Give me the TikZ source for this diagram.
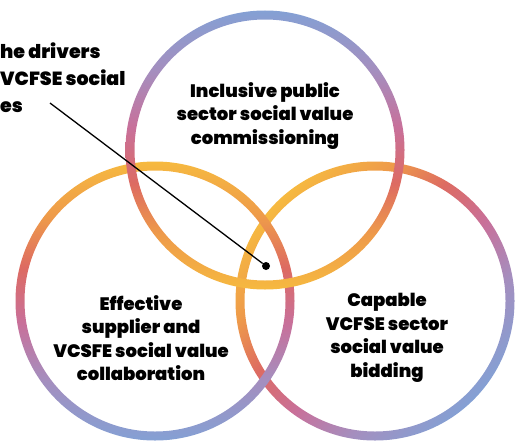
\documentclass[tikz,border=0pt]{standalone}
\usepackage{fontspec}
\newfontfamily\vennfont{Poppins}[UprightFont=* SemiBold]

\definecolor{vnYellow}{HTML}{F6B940}
\definecolor{vnOrange}{HTML}{EE9A4A}
\definecolor{vnRed}{HTML}{DD6B62}
\definecolor{vnPink}{HTML}{C8709A}
\definecolor{vnPurple}{HTML}{A58EBE}
\definecolor{vnBlue}{HTML}{84A0D4}

\pgfdeclareverticalshading{ringfade}{100bp}{color(0bp)=(vnYellow); color(25bp)=(vnYellow);
  color(35bp)=(vnOrange); color(44bp)=(vnRed); color(54bp)=(vnPink);
  color(64bp)=(vnPurple); color(75bp)=(vnBlue); color(100bp)=(vnBlue)}

\begin{document}
\begin{tikzpicture}[
        x=1pt, y=-1pt,
        ringpath/.style={shade, shading=ringfade, even odd rule},
        setname/.style={align=center, inner sep=0pt,
            font=\vennfont\bfseries\fontsize{18}{23.5}\selectfont},
        callout/.style={align=left, inner sep=0pt,
            font=\vennfont\bfseries\fontsize{19}{27}\selectfont},
        ar/.style={-, line width=1.3pt},
    ]
    \useasboundingbox (0,0) rectangle (521,441);

    \coordinate (cT) at (265,150);
    \coordinate (cL) at (155,301);
    \coordinate (cR) at (375,301);

    % the three rings
    \path[ringpath, shading angle=225] (cR) circle (139.5pt) (cR) circle (130.5pt);
    \path[ringpath, shading angle=180] (cL) circle (139.5pt) (cL) circle (130.5pt);
    \path[ringpath] (cT) circle (139.5pt) (cT) circle (130.5pt);

    \node[setname](top) at (265,116) {Inclusive public\\sector social value\\commissioning};
    \node[setname](left) at (141,338) {Effective\\supplier and\\VCSFE social value\\collaboration};
    \node[setname](right) at (387,338) {Capable\\VCFSE sector\\social value\\bidding};

    \node[callout, anchor=west](note) at (0,78) {he drivers\\VCFSE social\\es};

    \node[circle, fill, inner sep=0pt, minimum size=8pt](hub) at (266,266) {};
    \coordinate (tail) at (50,103);
    \draw[ar] (tail) to (hub);

\end{tikzpicture}
\end{document}
